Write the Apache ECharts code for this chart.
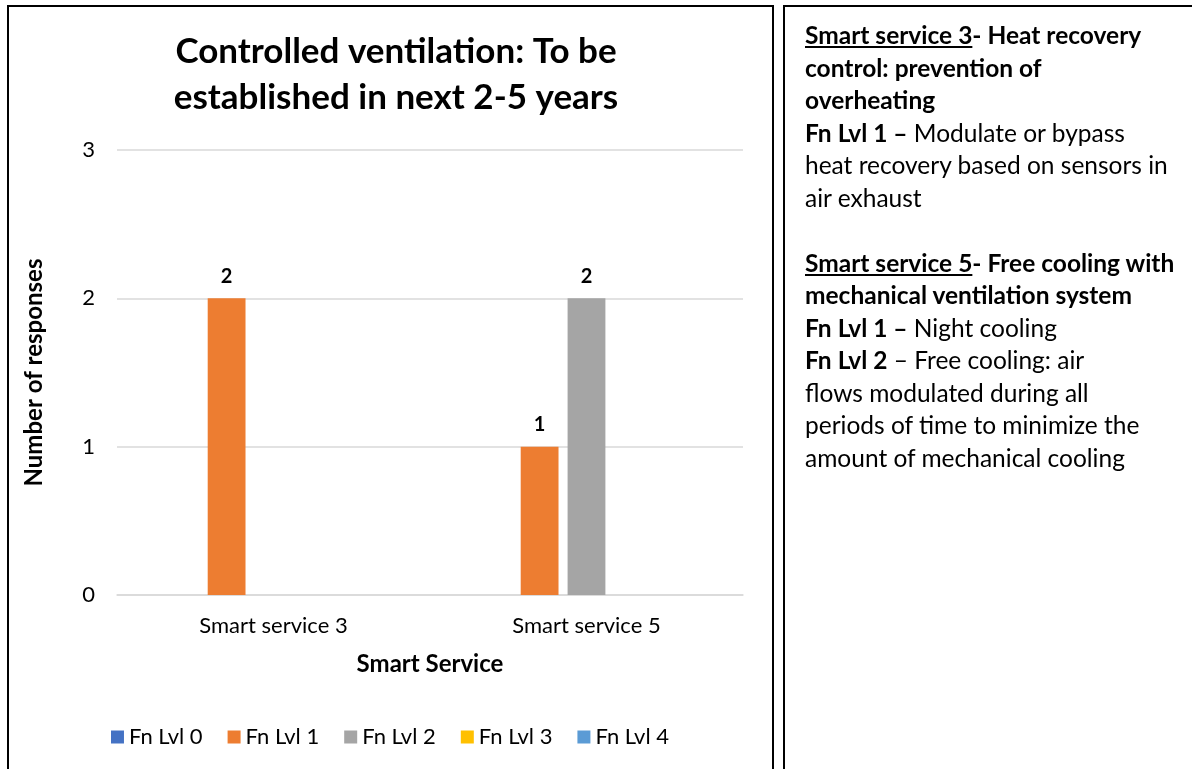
<!DOCTYPE html>
<html>
<head>
<meta charset="UTF-8">
<title>Controlled ventilation</title>
<script src="https://cdn.jsdelivr.net/npm/echarts@6/dist/echarts.min.js"></script>
<style>
  body { margin: 0; background: #fff; font-family: Lato, "Noto Sans", sans-serif; }
  #chart { position: absolute; left: 0; top: 0; width: 780px; height: 769px; }
  .box { position: absolute; border: 2px solid #000; pointer-events: none; }
  #leftBox { left: 7px; top: 5px; width: 763px; height: 800px; }
  #rightBox { left: 783px; top: 5px; width: 500px; height: 800px; }
  #notes { position: absolute; left: 805px; top: 19px; font-size: 24.5px; line-height: 32.5px; color: #000; white-space: nowrap; }
</style>
</head>
<body>
  <div id="chart"></div>
  <div class="box" id="leftBox"></div>
  <div class="box" id="rightBox"></div>
  <div id="notes">
    <b><u>Smart service 3</u>- Heat recovery<br>control: prevention of<br>overheating</b><br>
    <b>Fn Lvl 1 &ndash;</b> Modulate or bypass<br>heat recovery based on sensors in<br>air exhaust<br>
    <br>
    <b><u>Smart service 5</u>- Free cooling with<br>mechanical ventilation system</b><br>
    <b>Fn Lvl 1 &ndash;</b> Night cooling<br>
    <b>Fn Lvl 2</b> &ndash; Free cooling: air<br>flows modulated during all<br>periods of time to minimize the<br>amount of mechanical cooling
  </div>

<script type="text/javascript">
  // data
  var categories = ['Smart service 3', 'Smart service 5'];
  var levels = ['Fn Lvl 0', 'Fn Lvl 1', 'Fn Lvl 2', 'Fn Lvl 3', 'Fn Lvl 4'];
  var lvl0 = [0, 0];
  var lvl1 = [2, 1];
  var lvl2 = [0, 2];
  var lvl3 = [0, 0];
  var lvl4 = [0, 0];
  var yTicks = [0, 1, 2, 3];

  var colors = ['#4472C4', '#ED7D31', '#A5A5A5', '#FFC000', '#5B9BD5'];
  var values = [lvl0, lvl1, lvl2, lvl3, lvl4];
  var fontFam = 'Lato, "Noto Sans", sans-serif';

  var myChart = echarts.init(document.getElementById('chart'));

  var series = [];
  for (var i = 0; i < levels.length; i++) {
    series.push({
      name: levels[i],
      type: 'bar',
      barGap: '24%',
      barCategoryGap: '28%',
      itemStyle: { color: colors[i] },
      label: {
        show: true,
        position: 'top',
        distance: 12,
        fontFamily: fontFam,
        fontWeight: 'bold',
        fontSize: 20,
        color: '#000',
        formatter: function (p) { return p.value ? p.value : ''; }
      },
      data: values[i]
    });
  }

  var option = {
    animation: false,
    textStyle: { fontFamily: fontFam },
    title: {
      text: 'Controlled ventilation: To be\nestablished in next 2-5 years',
      left: 391,
      top: 24,
      textAlign: 'center',
      textStyle: { fontFamily: fontFam, fontWeight: 'bold', fontSize: 35, lineHeight: 46, color: '#000' }
    },
    legend: {
      data: levels,
      left: 'center',
      top: 721,
      itemWidth: 13,
      itemHeight: 13,
      itemGap: 25,
      icon: 'rect',
      textStyle: { fontFamily: fontFam, fontSize: 22, color: '#000' }
    },
    grid: { left: 117, right: 37, top: 150, bottom: 174, containLabel: false },
    xAxis: {
      type: 'category',
      data: categories,
      name: 'Smart Service',
      nameLocation: 'middle',
      nameGap: 57,
      nameTextStyle: { fontFamily: fontFam, fontWeight: 'bold', fontSize: 24, color: '#000' },
      axisLine: { lineStyle: { color: '#D9D9D9', width: 1.5 } },
      axisTick: { show: false },
      axisLabel: { fontSize: 22, color: '#000', margin: 20 }
    },
    yAxis: {
      type: 'value',
      min: yTicks[0],
      max: yTicks[yTicks.length - 1],
      interval: 1,
      name: 'Number of responses',
      nameLocation: 'middle',
      nameGap: 71,
      nameTextStyle: { fontFamily: fontFam, fontWeight: 'bold', fontSize: 24, color: '#000' },
      axisLine: { show: false },
      axisTick: { show: false },
      axisLabel: { fontSize: 22, color: '#000', margin: 22 },
      splitLine: { lineStyle: { color: '#D9D9D9', width: 1.5 } }
    },
    series: series
  };

  myChart.setOption(option);
</script>
</body>
</html>
